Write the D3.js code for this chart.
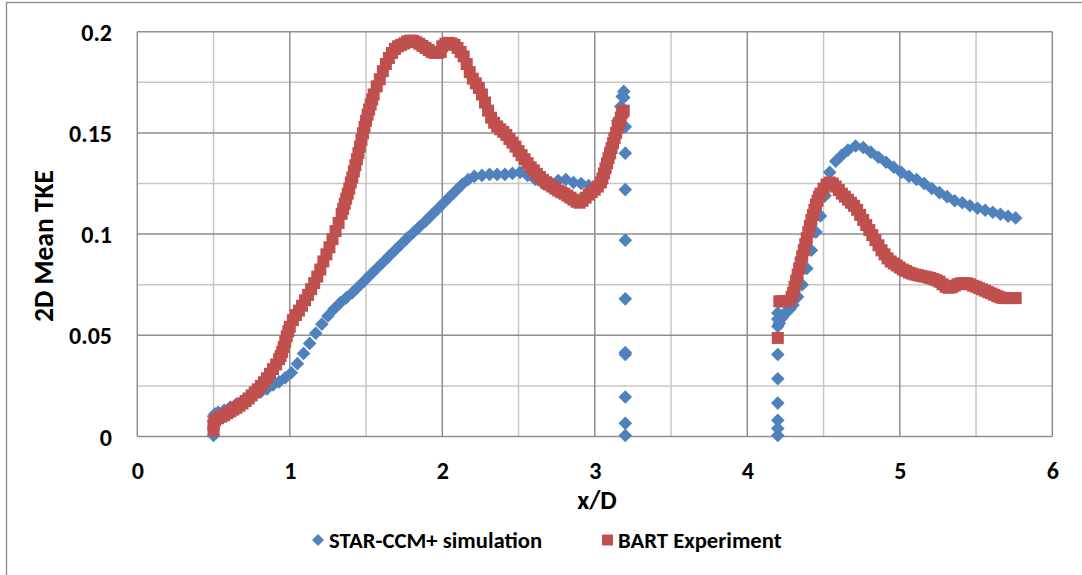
<!DOCTYPE html>
<html>
<head>
<meta charset="utf-8">
<script src="https://cdn.jsdelivr.net/npm/d3@7"></script>
<style>
  html, body { margin: 0; padding: 0; background: #fff; }
  svg { display: block; }
  text { font-family: Carlito, Lato, "Open Sans", sans-serif; font-weight: bold; fill: #000; }
</style>
</head>
<body>
<svg id="chart" width="1082" height="575"></svg>
<script>
// ---------- DATA ----------
const seriesNames = ["STAR-CCM+ simulation", "BART Experiment"];
const xTicks = [0, 1, 2, 3, 4, 5, 6];
const yTicks = [0, 0.05, 0.1, 0.15, 0.2];
const yTickLabels = ["0", "0.05", "0.1", "0.15", "0.2"];
const xTitle = "x/D";
const yTitle = "2D Mean TKE";

// STAR-CCM+ simulation (blue diamonds)
const simX = [
  0.5, 0.5, 0.5, 0.5, 0.51,
  0.53, 0.57, 0.61, 0.65, 0.69, 0.73, 0.77, 0.81, 0.85, 0.89, 0.93, 0.97,
  1.01, 1.05, 1.09, 1.13, 1.17, 1.21, 1.25, 1.29, 1.33, 1.37, 1.41, 1.45, 1.49,
  1.53, 1.57, 1.61, 1.65, 1.69, 1.73, 1.77, 1.81, 1.85, 1.89, 1.93, 1.97,
  2.01, 2.05, 2.09, 2.13, 2.17, 2.21, 2.26, 2.31, 2.36, 2.41, 2.46, 2.51,
  2.56, 2.61, 2.66, 2.71, 2.76, 2.81, 2.86, 2.91, 2.96, 3.0, 3.04, 3.07,
  3.09, 3.11, 3.13, 3.15, 3.17, 3.18, 3.19,
  3.19, 3.18, 3.2, 3.2, 3.2, 3.2, 3.2, 3.2, 3.2, 3.2, 3.2, 3.2,
  4.2, 4.2, 4.2, 4.2, 4.2, 4.2, 4.2, 4.2, 4.2,
  4.21, 4.22, 4.23, 4.24, 4.25, 4.26, 4.28, 4.3, 4.33, 4.36, 4.39, 4.42,
  4.45, 4.48, 4.51, 4.54, 4.58, 4.62, 4.66, 4.71, 4.76, 4.81, 4.86, 4.91,
  4.96, 5.01, 5.06, 5.11, 5.16, 5.21, 5.26, 5.31, 5.36, 5.41, 5.46, 5.51,
  5.56, 5.61, 5.66, 5.71, 5.76
];
const simY = [
  0.0005, 0.004, 0.0075, 0.010, 0.0112,
  0.012, 0.013, 0.0145, 0.016, 0.0175, 0.019, 0.0205, 0.022, 0.0235, 0.0255, 0.027, 0.029,
  0.0315, 0.036, 0.041, 0.046, 0.051, 0.0555, 0.0595, 0.063, 0.066, 0.0685, 0.071, 0.074, 0.077,
  0.080, 0.083, 0.086, 0.089, 0.092, 0.095, 0.098, 0.1008, 0.1036, 0.1064, 0.1094, 0.1124,
  0.1155, 0.1185, 0.1215, 0.1245, 0.127, 0.1285, 0.129, 0.1295, 0.1295, 0.1295, 0.130, 0.1305,
  0.129, 0.127, 0.125, 0.1255, 0.1265, 0.127, 0.1255, 0.125, 0.124, 0.1235, 0.126, 0.131,
  0.137, 0.143, 0.149, 0.156, 0.163, 0.168, 0.1705,
  0.1675, 0.161, 0.153, 0.140, 0.122, 0.097, 0.068, 0.0415, 0.0405, 0.0195, 0.0065, 0.0005,
  0.0005, 0.004, 0.008, 0.0165, 0.0285, 0.0405, 0.0545, 0.058, 0.061,
  0.056, 0.058, 0.059, 0.060, 0.061, 0.062, 0.063, 0.065, 0.069, 0.075, 0.083, 0.092,
  0.101, 0.109, 0.119, 0.1305, 0.136, 0.139, 0.1415, 0.1435, 0.1428, 0.1405, 0.138, 0.1355,
  0.133, 0.1305, 0.1285, 0.127, 0.125, 0.1225, 0.1205, 0.1185, 0.1165, 0.1155, 0.114, 0.1128,
  0.1118, 0.1108, 0.1098, 0.1088, 0.108
];

// BART Experiment (red squares)
const expX = [
  0.50, 0.50, 0.51, 0.53, 0.55, 0.57, 0.59, 0.61, 0.63, 0.65, 0.67, 0.69, 0.71, 0.73, 0.75,
  0.77, 0.79, 0.81, 0.83, 0.85, 0.87, 0.89, 0.91, 0.93, 0.94, 0.95, 0.96, 0.97, 0.98, 0.99,
  1.00, 1.02, 1.04, 1.06, 1.08, 1.10, 1.12, 1.14, 1.16, 1.18, 1.20, 1.22, 1.24, 1.26, 1.28,
  1.30, 1.32, 1.34, 1.35, 1.36, 1.37, 1.38, 1.39, 1.40, 1.41, 1.42, 1.43, 1.44, 1.45, 1.46,
  1.47, 1.48, 1.49, 1.50, 1.51, 1.52, 1.53, 1.54, 1.55, 1.57, 1.59, 1.61, 1.63, 1.65, 1.67,
  1.69, 1.71, 1.73, 1.75, 1.77, 1.79, 1.81, 1.83, 1.85, 1.87, 1.89, 1.91, 1.93, 1.95, 1.97,
  1.99, 2.00, 2.02, 2.04, 2.06, 2.08, 2.10, 2.12, 2.14, 2.16, 2.18, 2.20, 2.22, 2.24, 2.26,
  2.28, 2.30, 2.32, 2.34, 2.36, 2.38, 2.40, 2.42, 2.44, 2.46, 2.48, 2.50, 2.52, 2.54, 2.56,
  2.58, 2.60, 2.62, 2.64, 2.66, 2.68, 2.70, 2.72, 2.74, 2.76, 2.78, 2.80, 2.82, 2.84, 2.86,
  2.88, 2.90, 2.92, 2.94, 2.96, 2.98, 3.00, 3.02, 3.04, 3.05, 3.06, 3.07, 3.08, 3.09, 3.10,
  3.11, 3.12, 3.13, 3.14, 3.15, 3.16, 3.17, 3.18, 3.19,
  4.20, 4.21, 4.23, 4.25, 4.27, 4.29, 4.30, 4.31, 4.32, 4.33, 4.34, 4.35, 4.36, 4.37, 4.38,
  4.39, 4.40, 4.41, 4.42, 4.43, 4.44, 4.45, 4.46, 4.47, 4.48, 4.50, 4.52, 4.54, 4.56, 4.58,
  4.60, 4.62, 4.64, 4.66, 4.68, 4.70, 4.72, 4.74, 4.76, 4.78, 4.80, 4.82, 4.84, 4.86, 4.88,
  4.90, 4.92, 4.94, 4.96, 4.98, 5.00, 5.02, 5.04, 5.06, 5.08, 5.10, 5.12, 5.14, 5.16, 5.18,
  5.20, 5.22, 5.24, 5.26, 5.28, 5.30, 5.32, 5.34, 5.36, 5.38, 5.40, 5.42, 5.44, 5.46, 5.48,
  5.50, 5.52, 5.54, 5.56, 5.58, 5.60, 5.62, 5.64, 5.66, 5.68, 5.70, 5.72, 5.74, 5.76
];
const expY = [
  0.003, 0.006, 0.008, 0.009, 0.0098, 0.0105, 0.0115, 0.0124, 0.0133, 0.0142, 0.0152, 0.0163, 0.0175, 0.0188, 0.0203,
  0.0218, 0.0233, 0.025, 0.0268, 0.0288, 0.031, 0.0333, 0.0356, 0.0382, 0.0398, 0.0418, 0.0442, 0.0468, 0.0495, 0.052,
  0.0542, 0.0575, 0.0600, 0.0622, 0.0646, 0.0673, 0.0700, 0.0728, 0.0758, 0.079, 0.0825, 0.0865, 0.090, 0.0935, 0.0975,
  0.1015, 0.1055, 0.110, 0.1125, 0.115, 0.1175, 0.120, 0.1225, 0.1255, 0.128, 0.131, 0.134, 0.137, 0.140, 0.1432,
  0.1465, 0.1498, 0.153, 0.156, 0.159, 0.1615, 0.164, 0.1665, 0.169, 0.173, 0.1765, 0.1805, 0.184, 0.187, 0.1895,
  0.1915, 0.1928, 0.1935, 0.1942, 0.1952, 0.1956, 0.1955, 0.1948, 0.194, 0.193, 0.192, 0.191, 0.190, 0.1895, 0.1895,
  0.190, 0.1928, 0.194, 0.1945, 0.1942, 0.1935, 0.192, 0.190, 0.1878, 0.184, 0.180, 0.1768, 0.1745, 0.1722, 0.169,
  0.165, 0.161, 0.1575, 0.155, 0.1532, 0.1518, 0.1505, 0.149, 0.147, 0.1452, 0.1432, 0.141, 0.139, 0.137, 0.135,
  0.133, 0.1315, 0.1298, 0.1282, 0.1268, 0.1255, 0.1245, 0.1235, 0.1225, 0.1215, 0.1207, 0.120, 0.119, 0.118, 0.117,
  0.116, 0.1155, 0.1165, 0.118, 0.1195, 0.1208, 0.122, 0.1235, 0.1255, 0.1275, 0.130, 0.1325, 0.135, 0.1375, 0.140,
  0.1425, 0.145, 0.1475, 0.150, 0.1525, 0.155, 0.1575, 0.160, 0.161,
  0.0487, 0.0668, 0.0668, 0.0668, 0.067, 0.069, 0.071, 0.074, 0.077, 0.080, 0.083, 0.086, 0.089, 0.092, 0.095,
  0.098, 0.101, 0.104, 0.107, 0.1095, 0.112, 0.1145, 0.1165, 0.1185, 0.120, 0.1225, 0.1245, 0.1255, 0.125, 0.1235,
  0.1218, 0.120, 0.1185, 0.117, 0.1155, 0.114, 0.112, 0.1095, 0.107, 0.1045, 0.102, 0.0995, 0.097, 0.0945, 0.092,
  0.090, 0.088, 0.0865, 0.0855, 0.0845, 0.0835, 0.0825, 0.0818, 0.081, 0.0805, 0.080, 0.0797, 0.0793, 0.079, 0.0787,
  0.0783, 0.0778, 0.0772, 0.0765, 0.0752, 0.074, 0.0735, 0.0737, 0.0745, 0.0752, 0.0757, 0.0758, 0.0757, 0.0752, 0.0745,
  0.074, 0.0733, 0.0727, 0.072, 0.0713, 0.0707, 0.070, 0.0693, 0.0687, 0.0684, 0.0684, 0.0684, 0.0684, 0.0684
];

// ---------- CHART ----------
const svg = d3.select("#chart");
const W = 1082, H = 575;
const plot = { left: 137.3, right: 1052.3, top: 31.7, bottom: 436.5 };
const blue = "#4F81BD", red = "#C0504D";

const x = d3.scaleLinear().domain([0, 6]).range([plot.left, plot.right]);
const y = d3.scaleLinear().domain([0, 0.2]).range([plot.bottom, plot.top]);

// outer chart border
svg.append("rect")
  .attr("x", 6.5).attr("y", 2.5)
  .attr("width", W + 10).attr("height", H + 10)
  .attr("fill", "none").attr("stroke", "#8a8a8a").attr("stroke-width", 1.3);

// gridlines
const grid = svg.append("g");
const minorX = d3.range(0, 6.001, 0.5).filter(v => Math.abs(v - Math.round(v)) > 1e-6);
const minorY = d3.range(0, 0.2001, 0.025).filter((v, i) => i % 2 === 1);
grid.selectAll(".mx").data(minorX).join("line")
  .attr("x1", d => x(d)).attr("x2", d => x(d)).attr("y1", plot.top).attr("y2", plot.bottom)
  .attr("stroke", "#c6c6c6").attr("stroke-width", 1.5);
grid.selectAll(".my").data(minorY).join("line")
  .attr("y1", d => y(d)).attr("y2", d => y(d)).attr("x1", plot.left).attr("x2", plot.right)
  .attr("stroke", "#c6c6c6").attr("stroke-width", 1.5);
grid.selectAll(".MX").data(xTicks).join("line")
  .attr("x1", d => x(d)).attr("x2", d => x(d)).attr("y1", plot.top).attr("y2", plot.bottom)
  .attr("stroke", "#8e8e8e").attr("stroke-width", 1.5);
grid.selectAll(".MY").data(yTicks).join("line")
  .attr("y1", d => y(d)).attr("y2", d => y(d)).attr("x1", plot.left).attr("x2", plot.right)
  .attr("stroke", "#8e8e8e").attr("stroke-width", 1.5);

// axes (labels only)
const xAxis = d3.axisBottom(x).tickValues(xTicks).tickSize(0).tickPadding(0).tickFormat(d3.format("d"));
const gx = svg.append("g").attr("transform", `translate(0,${plot.bottom})`).call(xAxis);
gx.select(".domain").remove();
gx.selectAll("text").attr("dy", null).attr("y", 42).style("font-size", "24px").style("font-family", null);

const yAxis = d3.axisLeft(y).tickValues(yTicks).tickSize(0).tickPadding(0)
  .tickFormat((d, i) => yTickLabels[i]);
const gy = svg.append("g").attr("transform", `translate(112,0)`).call(yAxis);
gy.select(".domain").remove();
gy.selectAll("text").attr("dy", "0.36em").style("font-size", "24px").style("font-family", null);

// axis titles
svg.append("text").attr("x", 597).attr("y", 509).attr("text-anchor", "middle")
  .style("font-size", "26px").text(xTitle);
svg.append("text").attr("transform", "translate(53,246) rotate(-90)").attr("text-anchor", "middle")
  .style("font-size", "27.5px").text(yTitle);

// series
const simData = simX.map((v, i) => [v, simY[i]]);
const expData = expX.map((v, i) => [v, expY[i]]);
const diamond = d3.symbol().type(d3.symbolDiamond2).size(118)();
const square = d3.symbol().type(d3.symbolSquare).size(144)();

svg.append("g").selectAll("path").data(simData).join("path")
  .attr("d", diamond)
  .attr("transform", d => `translate(${x(d[0])},${y(d[1])})`)
  .attr("fill", blue);
svg.append("g").selectAll("path").data(expData).join("path")
  .attr("d", square)
  .attr("transform", d => `translate(${x(d[0])},${y(d[1])})`)
  .attr("fill", red);

// legend
const leg = svg.append("g");
leg.append("path").attr("d", d3.symbol().type(d3.symbolDiamond2).size(92)())
  .attr("transform", "translate(318,540)").attr("fill", blue);
leg.append("text").attr("x", 329).attr("y", 548).style("font-size", "22.7px").text(seriesNames[0]);
leg.append("path").attr("d", d3.symbol().type(d3.symbolSquare).size(120)())
  .attr("transform", "translate(607.5,540)").attr("fill", red);
leg.append("text").attr("x", 618).attr("y", 548).style("font-size", "22.7px").text(seriesNames[1]);
</script>
</body>
</html>
